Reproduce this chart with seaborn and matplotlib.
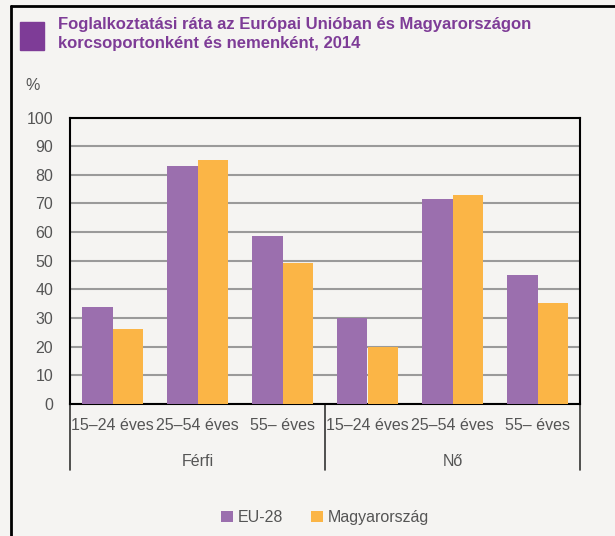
import pandas as pd
import seaborn as sns
import matplotlib.pyplot as plt
from matplotlib.lines import Line2D
from matplotlib.patches import Rectangle

# Employment rate by age group and sex, 2014
groups = ["Férfi", "Nő"]
age_labels = ["15–24 éves", "25–54 éves", "55– éves"]
series = ["EU-28", "Magyarország"]
eu28 = [33.9, 82.9, 58.6, 30.1, 71.5, 45.2]
hungary = [26.1, 85.0, 49.3, 20.0, 73.1, 35.3]
colors = ["#9B6FAE", "#FBB546"]

keys = [f"{g} {a}" for g in groups for a in age_labels]
df = pd.DataFrame({
    "cat": keys * 2,
    "val": eu28 + hungary,
    "series": [series[0]] * 6 + [series[1]] * 6,
})

bg = "#F5F4F2"
txt = "#555555"
sns.set_style("white")
plt.rcParams["font.family"] = ["Liberation Sans", "DejaVu Sans"]

fig = plt.figure(figsize=(6.15, 5.36), dpi=100, facecolor=bg)
ax = fig.add_axes([70 / 615, 1 - 404 / 536, 510 / 615, 286.5 / 536])
ax.set_facecolor(bg)

sns.barplot(data=df, x="cat", y="val", hue="series", palette=colors,
            order=keys, hue_order=series, width=0.71, saturation=1, ax=ax,
            edgecolor="none", legend=True, zorder=3)

ax.set_xlim(-0.5, 5.5)
ax.set_ylim(0, 100)
ax.set_yticks(range(0, 101, 10))
ax.yaxis.grid(True, color="#9A9A9A", linewidth=1.5, zorder=0)
ax.set_axisbelow(True)
for s in ax.spines.values():
    s.set_color("black")
    s.set_linewidth(1.5)
ax.set_xlabel("")
ax.set_ylabel("")
ax.set_xticks(range(6))
ax.set_xticklabels(age_labels * 2)
ax.tick_params(axis="both", length=0, labelsize=11.5, labelcolor=txt)
ax.tick_params(axis="x", pad=10)
ax.tick_params(axis="y", pad=12)

# group separators and group labels
for xb in [-0.5, 2.5, 5.5]:
    ax.plot([xb, xb], [0, -0.23], color="#333333", linewidth=1.2,
            transform=ax.get_xaxis_transform(), clip_on=False)
for i, g in enumerate(groups):
    ax.text(1 + 3 * i, -0.2, g, transform=ax.get_xaxis_transform(),
            ha="center", va="center", fontsize=11.5, color=txt)

ax.text(-0.06, 1.11, "%", transform=ax.transAxes, ha="right", va="center",
        fontsize=11.5, color=txt)

leg = ax.legend(loc="upper center", bbox_to_anchor=(0.5, -0.32), ncol=2,
                frameon=False, fontsize=11.5, handlelength=0.7, handleheight=0.7,
                handletextpad=0.3, columnspacing=1.8)
for t in leg.get_texts():
    t.set_color(txt)

# title block
fig.add_artist(Rectangle((20 / 615, 1 - 50 / 536), 24 / 615, 28 / 536,
                         transform=fig.transFigure, color="#7E3C97"))
fig.text(58 / 615, 1 - 34 / 536,
         "Foglalkoztatási ráta az Európai Unióban és Magyarországon\nkorcsoportonként és nemenként, 2014",
         ha="left", va="center", fontsize=12, fontweight="bold", color="#7E3C97",
         linespacing=1.4, transform=fig.transFigure)

# outer frame
fig.add_artist(Line2D([11 / 615, 11 / 615], [0, 1 - 6 / 536], color="black",
                      linewidth=2, transform=fig.transFigure))
fig.add_artist(Line2D([11 / 615, 1], [1 - 6 / 536, 1 - 6 / 536], color="black",
                      linewidth=2, transform=fig.transFigure))

fig.savefig("out.png", dpi=100, facecolor=bg)
